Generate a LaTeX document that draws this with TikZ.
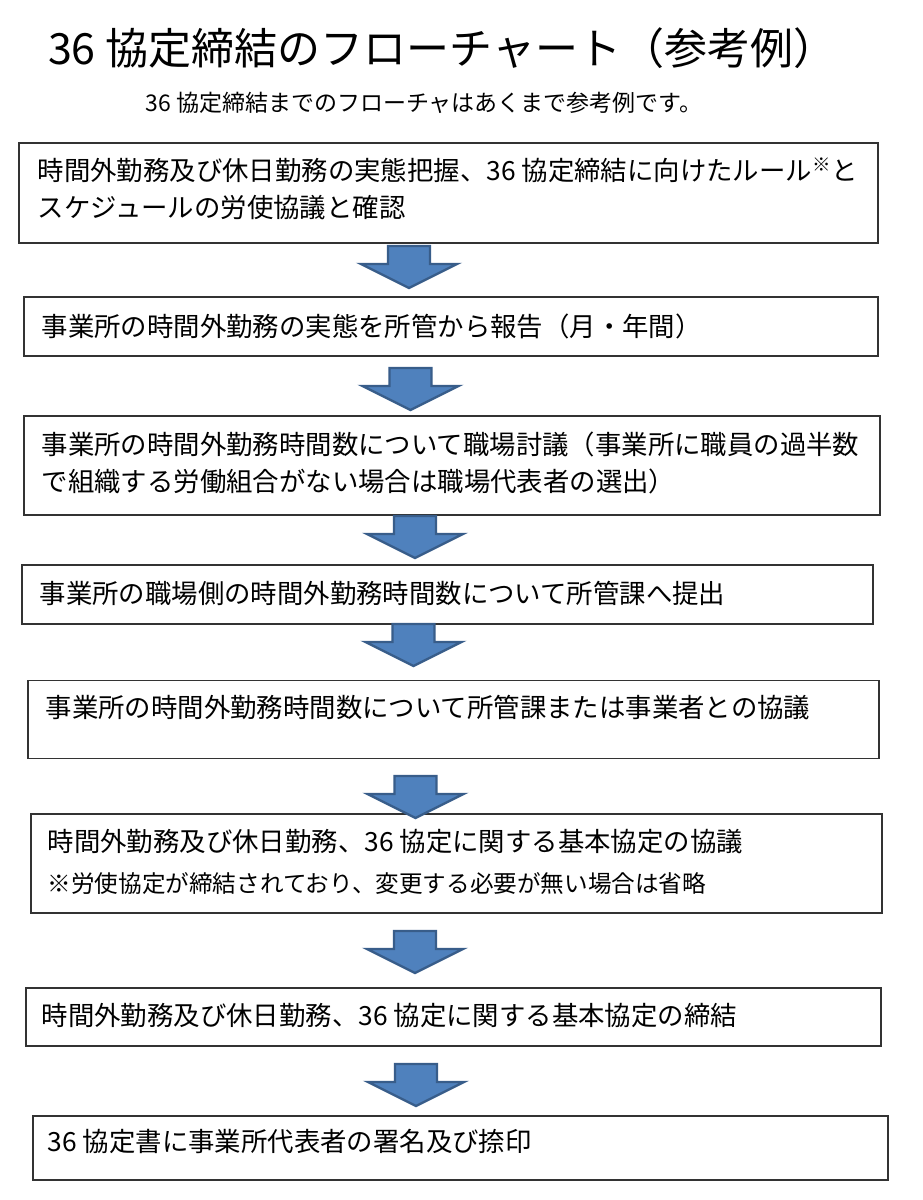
\documentclass[tikz,border=0pt]{standalone}
\usepackage{fontspec}
\setmainfont{Noto Sans CJK JP}
\usetikzlibrary{positioning}

\definecolor{arrowblue}{HTML}{4F81BD}
\definecolor{arrowedge}{HTML}{385D8A}

\begin{document}
\begin{tikzpicture}[x=1pt,y=-1pt,semithick]
  \tikzstyle{flowbox}=[draw=black!80,line width=1.2pt,inner sep=0pt,fill=white]
  \tikzstyle{boxtext}=[inner sep=0pt,align=left,font=\fontsize{26.4}{37}\selectfont]
  \tikzset{downarrow/.pic={
    \draw[fill=arrowblue,draw=arrowedge,line width=2.4pt,line join=miter]
      (-21,1) -- (21,1) -- (21,19) -- (48,19) -- (0,43) -- (-48,19) -- (-21,19) -- cycle;}}

  \useasboundingbox[fill=white] (0,0) rectangle (922,1200);

  \node[inner sep=0pt,font=\fontsize{43}{43}\selectfont] (title) at (442,48) {36 協定締結のフローチャート（参考例）};
  \node[inner sep=0pt,font=\fontsize{23}{23}\selectfont] (sub) at (424,103) {36 協定締結までのフローチャはあくまで参考例です。};

  % steps
  \node[flowbox,minimum width=859,minimum height=100] (b1) at (448.5,193) {};
  \node[flowbox,minimum width=854,minimum height=59]  (b2) at (451,326.5) {};
  \node[flowbox,minimum width=856,minimum height=99]  (b3) at (452,465.5) {};
  \node[flowbox,minimum width=851,minimum height=59]  (b4) at (447.5,594.5) {};
  \node[flowbox,minimum width=851,minimum height=78]  (b5) at (453.5,719.5) {};
  \node[flowbox,minimum width=851,minimum height=99]  (b6) at (456.5,863.5) {};
  \node[flowbox,minimum width=855,minimum height=58]  (b7) at (453.5,1017) {};
  \node[flowbox,minimum width=855,minimum height=64]  (b8) at (460.5,1148) {};

  \node[boxtext,right=19pt of b1.west,yshift=4.5pt] (t1)
    {時間外勤務及び休日勤務の実態把握、36 協定締結に向けたルール\textsuperscript{※}と\\スケジュールの労使協議と確認};
  \node[boxtext,right=18pt of b2.west] (t2)
    {事業所の時間外勤務の実態を所管から報告（月・年間）};
  \node[boxtext,right=18pt of b3.west,yshift=3pt] (t3)
    {事業所の時間外勤務時間数について職場討議（事業所に職員の過半数\\で組織する労働組合がない場合は職場代表者の選出）};
  \node[boxtext,right=18pt of b4.west,yshift=1.5pt] (t4)
    {事業所の職場側の時間外勤務時間数について所管課へ提出};
  \node[boxtext,right=18pt of b5.west,yshift=12pt] (t5)
    {事業所の時間外勤務時間数について所管課または事業者との協議};
  \node[boxtext,right=17pt of b6.west,yshift=2pt] (t6)
    {時間外勤務及び休日勤務、36 協定に関する基本協定の協議\\[4pt]{\fontsize{23.6}{37}\selectfont ※労使協定が締結されており、変更する必要が無い場合は省略}};
  \node[boxtext,right=16pt of b7.west,yshift=1pt] (t7)
    {時間外勤務及び休日勤務、36 協定に関する基本協定の締結};
  \node[boxtext,right=15pt of b8.west,yshift=7pt] (t8)
    {36 協定書に事業所代表者の署名及び捺印};

  % arrows between the steps
  \pic at (409,245)   {downarrow};
  \pic at (410.5,367) {downarrow};
  \pic at (415,515)   {downarrow};
  \pic at (413.5,623) {downarrow};
  \pic at (415.5,775) {downarrow};
  \pic at (415,930)   {downarrow};
  \pic at (416,1063)  {downarrow};
\end{tikzpicture}
\end{document}
